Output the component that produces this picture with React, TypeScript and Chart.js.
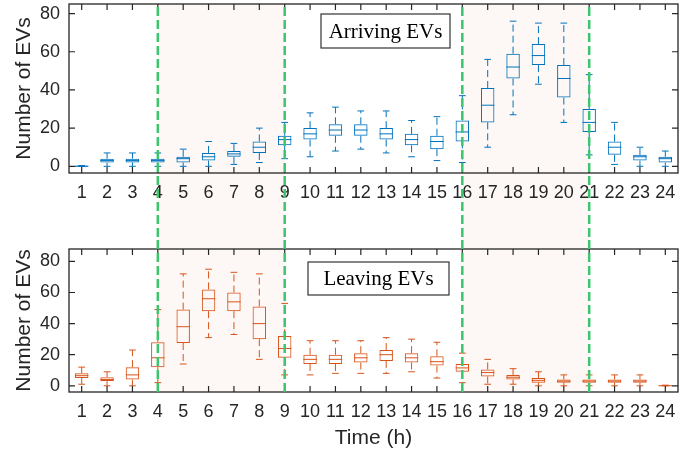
import React, { useEffect, useRef } from 'react';
import { Chart, registerables } from 'chart.js';

Chart.register(...registerables);

// ---------- data ----------
const hours = ['1','2','3','4','5','6','7','8','9','10','11','12','13','14','15','16','17','18','19','20','21','22','23','24'];
const yTicks = [0, 20, 40, 60, 80];
const shadeStart = [4, 16];
const shadeEnd = [9, 21];
const dividers = [4, 9, 16, 21];

// Arriving EVs (box statistics per hour)
const arrMin = [0, 0, 0, 0, 0, 0, 1, 2, 4, 5, 8, 9, 7, 5, 3, 2, 10, 27, 43, 23, 6, 1, 0, 0];
const arrQ1 = [0, 2, 2, 2, 2, 3, 5, 7, 11, 14, 16, 16, 14, 11, 9, 13, 23, 46, 53, 36, 18, 6, 3, 2];
const arrMed = [0, 3, 3, 3, 4, 5, 6.5, 10, 14, 17, 19, 19, 17, 14, 13, 18, 32, 52, 58, 46, 23, 10, 5, 4];
const arrQ3 = [0.4, 4, 4, 4, 5, 7, 8, 13, 16, 20, 22, 22, 20, 17, 16, 24, 41, 59, 64, 53, 30, 13, 6, 5];
const arrMax = [0.4, 7, 7, 7, 9, 13, 12, 20, 23, 28, 31, 29, 29, 24, 26, 37, 56, 76, 75, 75, 48, 23, 10, 8];

// Leaving EVs
const levMin = [1, 0, 0, 2, 14, 31, 33, 17, 7, 7, 8, 8, 8, 9, 5, 2, 1, 1, 0, 0, 0, 0, 0, 0];
const levQ1 = [5, 3, 4, 12, 27.5, 48, 48, 30, 18, 14, 14, 15, 16, 15, 13, 9, 6, 4, 2, 2, 2, 2, 2, 0];
const levMed = [6.5, 4, 7, 18, 38, 56, 54, 40, 24, 17, 17, 18, 20, 18, 15.5, 11.5, 8.5, 5.5, 3.5, 3, 3, 3, 3, 0];
const levQ3 = [8, 5.5, 12, 28, 49, 62, 60, 51, 32, 20, 20, 21, 23, 21, 19, 14, 10.5, 7, 5, 4, 4, 4, 4, 0.4];
const levMax = [12, 9, 23, 49, 72, 75, 73, 72, 53, 29, 29, 29, 31, 30, 28, 21, 17, 11, 9, 7, 7, 7, 7, 0.4];

const AXIS = '#262626';
const FONT = "'Liberation Sans', Arial, Helvetica, sans-serif";
const SERIF = "'Liberation Serif', 'Times New Roman', serif";

const boxPlugin = {
  id: 'boxExtras',
  beforeDraw(chart: any, _a: any, opts: any) {
    const { ctx, chartArea } = chart;
    const x = chart.scales.x;
    const top = opts.extend === 'down' ? chartArea.top : 0;
    const bottom = opts.extend === 'down' ? chart.height : chartArea.bottom;
    ctx.save();
    ctx.fillStyle = '#fdf8f5';
    shadeStart.forEach((s, i) => {
      const x0 = x.getPixelForValue(hours.indexOf(String(s)));
      const x1 = x.getPixelForValue(hours.indexOf(String(shadeEnd[i])));
      ctx.fillRect(x0, top, x1 - x0, bottom - top);
    });
    ctx.restore();
  },
  afterDatasetsDraw(chart: any, _a: any, opts: any) {
    const { ctx } = chart;
    const x = chart.scales.x;
    const y = chart.scales.y;
    const meta = chart.getDatasetMeta(0);
    ctx.save();
    ctx.strokeStyle = opts.color;
    ctx.lineWidth = 1;
    opts.med.forEach((m: number, i: number) => {
      const bar = meta.data[i];
      const w = bar.width;
      const cx = x.getPixelForValue(i);
      const ym = y.getPixelForValue(m);
      const yq1 = y.getPixelForValue(opts.q1[i]);
      const yq3 = y.getPixelForValue(opts.q3[i]);
      const ymin = y.getPixelForValue(opts.min[i]);
      const ymax = y.getPixelForValue(opts.max[i]);
      ctx.setLineDash([]);
      ctx.beginPath();
      ctx.moveTo(cx - w / 2, ym);
      ctx.lineTo(cx + w / 2, ym);
      ctx.stroke();
      ctx.setLineDash([7, 4]);
      ctx.beginPath();
      ctx.moveTo(cx, yq3);
      ctx.lineTo(cx, ymax);
      ctx.moveTo(cx, yq1);
      ctx.lineTo(cx, ymin);
      ctx.stroke();
      ctx.setLineDash([]);
      ctx.beginPath();
      ctx.moveTo(cx - w / 4, ymax);
      ctx.lineTo(cx + w / 4, ymax);
      ctx.moveTo(cx - w / 4, ymin);
      ctx.lineTo(cx + w / 4, ymin);
      ctx.stroke();
    });
    ctx.restore();
  },
  afterDraw(chart: any, _a: any, opts: any) {
    const { ctx, chartArea } = chart;
    const x = chart.scales.x;
    const y = chart.scales.y;
    const { left, right, top, bottom } = chartArea;
    ctx.save();
    ctx.strokeStyle = AXIS;
    ctx.lineWidth = 1.3;
    ctx.strokeRect(left, top, right - left, bottom - top);
    ctx.lineWidth = 1.2;
    ctx.beginPath();
    hours.forEach((_h, i) => {
      const px = x.getPixelForValue(i);
      ctx.moveTo(px, bottom);
      ctx.lineTo(px, bottom - 6);
      ctx.moveTo(px, top);
      ctx.lineTo(px, top + 6);
    });
    yTicks.forEach((v) => {
      const py = y.getPixelForValue(v);
      ctx.moveTo(left, py);
      ctx.lineTo(left + 6, py);
      ctx.moveTo(right, py);
      ctx.lineTo(right - 6, py);
    });
    ctx.stroke();
    const gTop = opts.extend === 'down' ? top + 3 : 0;
    const gBottom = opts.extend === 'down' ? chart.height : bottom;
    ctx.strokeStyle = '#3cc46e';
    ctx.lineWidth = 2.5;
    ctx.setLineDash([9, 4]);
    dividers.forEach((d) => {
      const px = x.getPixelForValue(hours.indexOf(String(d)));
      ctx.beginPath();
      ctx.moveTo(px, gTop);
      ctx.lineTo(px, gBottom);
      ctx.stroke();
    });
    ctx.setLineDash([]);
    const lb = opts.label;
    ctx.fillStyle = '#ffffff';
    ctx.fillRect(lb.x, lb.y, lb.w, lb.h);
    ctx.strokeStyle = '#333333';
    ctx.lineWidth = 1.2;
    ctx.strokeRect(lb.x, lb.y, lb.w, lb.h);
    ctx.fillStyle = '#000000';
    ctx.font = `21px ${SERIF}`;
    ctx.textAlign = 'center';
    ctx.textBaseline = 'middle';
    ctx.fillText(lb.text, lb.x + lb.w / 2, lb.y + lb.h / 2 + 1);
    ctx.restore();
  },
};

function makeChart(
  canvas: HTMLCanvasElement,
  cfg: {
    color: string; min: number[]; q1: number[]; med: number[]; q3: number[]; max: number[];
    yMin: number; yMax: number; extend: 'down' | 'up'; padTop: number; xHeight: number;
    label: any; showXTitle: boolean;
  }
) {
  return new Chart(canvas, {
    type: 'bar',
    data: {
      labels: hours,
      datasets: [
        {
          data: cfg.q1.map((v, i) => [v, cfg.q3[i]]) as any,
          backgroundColor: 'rgba(0,0,0,0)',
          borderColor: cfg.color,
          borderWidth: 1,
          borderSkipped: false,
          barPercentage: 0.53,
          categoryPercentage: 1,
        },
      ],
    },
    options: {
      responsive: false,
      animation: false,
      events: [],
      layout: { padding: { left: 0, right: 22, top: cfg.padTop, bottom: 0 } },
      plugins: {
        legend: { display: false },
        tooltip: { enabled: false },
        boxExtras: {
          color: cfg.color, min: cfg.min, q1: cfg.q1, med: cfg.med, q3: cfg.q3, max: cfg.max,
          extend: cfg.extend, label: cfg.label,
        },
      } as any,
      scales: {
        x: {
          type: 'category',
          offset: true,
          grid: { display: false, drawTicks: false },
          border: { display: false },
          afterFit: (s: any) => { s.height = cfg.xHeight; s.paddingLeft = 0; s.paddingRight = 0; },
          ticks: { padding: 9, color: AXIS, font: { size: 18, family: FONT }, maxRotation: 0, autoSkip: false },
          title: {
            display: cfg.showXTitle, text: 'Time (h)', color: AXIS,
            font: { size: 21, family: FONT }, padding: { top: 2, bottom: 0 },
          },
        },
        y: {
          type: 'linear',
          min: cfg.yMin,
          max: cfg.yMax,
          afterBuildTicks: (s: any) => { s.ticks = yTicks.map((v) => ({ value: v })); },
          afterFit: (s: any) => { s.width = 69; s.paddingTop = 0; s.paddingBottom = 0; },
          grid: { display: false, drawTicks: false },
          border: { display: false },
          ticks: { padding: 9, color: AXIS, font: { size: 18, family: FONT } },
          title: {
            display: true, text: 'Number of EVs', color: AXIS,
            font: { size: 21, family: FONT }, padding: { top: 12, bottom: 0 },
          },
        },
      },
    },
    plugins: [boxPlugin as any],
  });
}

export default function App() {
  const topRef = useRef<HTMLCanvasElement>(null);
  const botRef = useRef<HTMLCanvasElement>(null);

  useEffect(() => {
    const c1 = makeChart(topRef.current!, {
      color: '#0072BD', min: arrMin, q1: arrQ1, med: arrMed, q3: arrQ3, max: arrMax,
      yMin: -3.5, yMax: 85, extend: 'down', padTop: 4, xHeight: 67,
      label: { text: 'Arriving EVs', x: 321, y: 14, w: 129, h: 34 },
      showXTitle: false,
    });
    const c2 = makeChart(botRef.current!, {
      color: '#D95319', min: levMin, q1: levQ1, med: levMed, q3: levQ3, max: levMax,
      yMin: -4, yMax: 88, extend: 'up', padTop: 9, xHeight: 59,
      label: { text: 'Leaving EVs', x: 308, y: 22, w: 141, h: 33 },
      showXTitle: true,
    });
    return () => { c1.destroy(); c2.destroy(); };
  }, []);

  return (
    <div style={{ position: 'fixed', left: 0, top: 0, width: 700, height: 451, background: '#ffffff' }}>
      <canvas ref={topRef} width={700} height={240} style={{ position: 'absolute', left: 0, top: 0, width: 700, height: 240 }} />
      <canvas ref={botRef} width={700} height={211} style={{ position: 'absolute', left: 0, top: 240, width: 700, height: 211 }} />
    </div>
  );
}
